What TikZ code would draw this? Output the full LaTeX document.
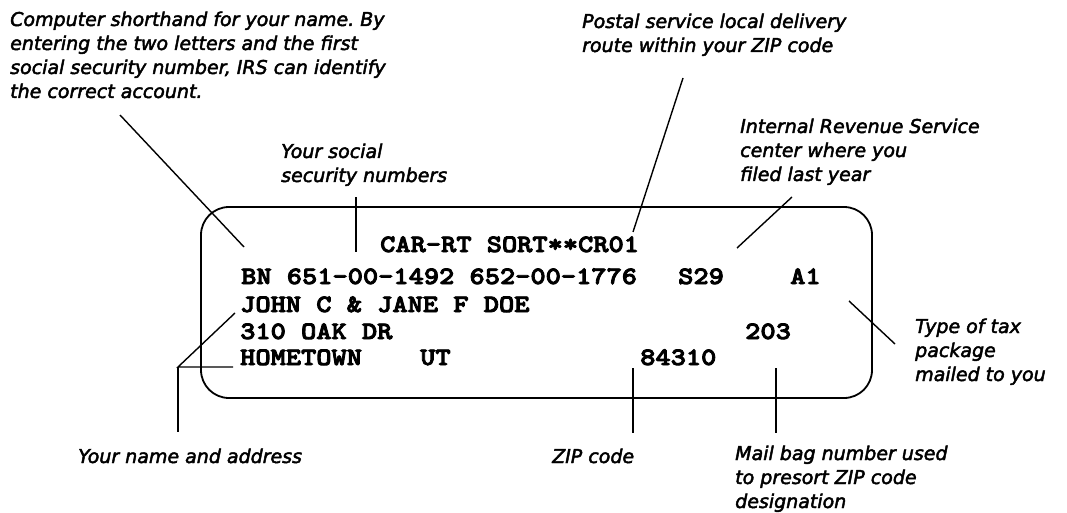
\documentclass[tikz,border=0pt]{standalone}
\usepackage{fontspec}
\setmainfont{DejaVu Sans}
\newfontfamily\notefont[FakeBold=2.4]{DejaVu Sans}
\newfontfamily\typefont[FakeStretch=1.16, FakeBold=3.5]{lmmonolt10-bold.otf}
\usepackage{tikz}
\usetikzlibrary{positioning}
\frenchspacing
\tikzstyle{note}=[align=left, anchor=base west, inner sep=0pt, font=\fontsize{19}{24}\notefont\itshape]
\tikzstyle{typed}=[anchor=base west, inner sep=0pt, font=\fontsize{25}{27}\typefont]
\tikzstyle{label box}=[line width=1.8pt, rounded corners=28pt]
\tikzstyle{leader}=[line width=1.4pt]

\begin{document}
\begin{tikzpicture}[x=1pt, y=-1pt]
      \useasboundingbox (0,0) rectangle (1067,513);

      % the mailing label
      \draw[label box] (201,207) rectangle (872,398);

      \node[typed] (sort)   at (380,252) {CAR-RT SORT**CR01};
      \node[typed] (ssn)    at (241,284) {BN 651-00-1492 652-00-1776};
      \node[typed] (center) at (678,284) {S29};
      \node[typed] (pkg)    at (790,284) {A1};
      \node[typed] (names)  at (240,312) {JOHN C \& JANE F DOE};
      \node[typed] (street) at (240,339) {310 OAK DR};
      \node[typed] (bag)    at (745,339) {203};
      \node[typed] (town)   at (240,365) {HOMETOWN};
      \node[typed] (state)  at (420,365) {UT};
      \node[typed] (zip)    at (640,365) {84310};

      % explanations round the label (placed by their last line)
      \node[note] (shorthand) at (10,98) {Computer shorthand for your name. By\\entering the two letters and the first\\social security number, IRS can identify\\the correct account.};
      \node[note] (route)    at (582,52)  {Postal service local delivery\\route within your ZIP code};
      \node[note] (irs)      at (740,181) {Internal Revenue Service\\center where you\\filed last year};
      \node[note] (social)   at (281,182) {Your social\\security numbers};
      \node[note] (taxtype)  at (915,381) {Type of tax\\package\\mailed to you};
      \node[note] (nameaddr) at (78,463)  {Your name and address};
      \node[note] (zipnote)  at (552,463) {ZIP code};
      \node[note] (mailbag)  at (735,508) {Mail bag number used\\to presort ZIP code\\designation};

      % leader ends
      \coordinate (sh1) at (120,115); \coordinate (sh2) at (244,247);
      \coordinate (so1) at (356,197); \coordinate (so2) at (356,252);
      \coordinate (ro1) at (683,78);  \coordinate (ro2) at (633,232);
      \coordinate (ir1) at (792,197); \coordinate (ir2) at (737,248);
      \coordinate (tt1) at (849,301); \coordinate (tt2) at (895,344);
      \coordinate (zc1) at (633,368); \coordinate (zc2) at (633,433);
      \coordinate (mb1) at (776,368); \coordinate (mb2) at (776,433);
      \coordinate (na0) at (178,367);
      \coordinate (na1) at (235,313); \coordinate (na2) at (233,367);
      \coordinate (na3) at (178,432);

      \draw[leader] (sh1) -- (sh2);
      \draw[leader] (so1) -- (so2);
      \draw[leader] (ro1) -- (ro2);
      \draw[leader] (ir1) -- (ir2);
      \draw[leader] (tt1) -- (tt2);
      \draw[leader] (zc1) -- (zc2);
      \draw[leader] (mb1) -- (mb2);
      \draw[leader] (na1) -- (na0) -- (na2);
      \draw[leader] (na0) -- (na3);
\end{tikzpicture}
\end{document}
